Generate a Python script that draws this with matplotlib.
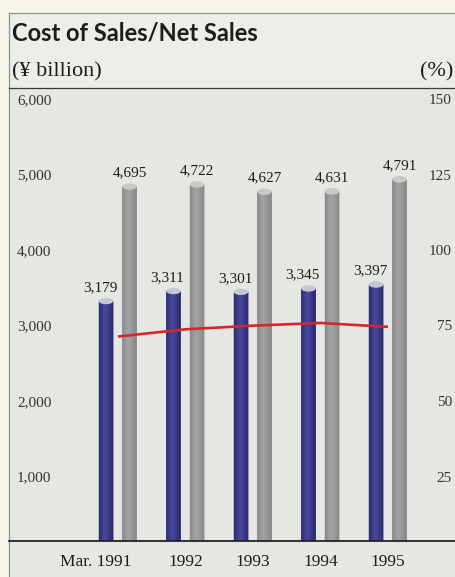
import numpy as np
import matplotlib
matplotlib.use("Agg")
import matplotlib.pyplot as plt
from matplotlib.patches import Rectangle, Ellipse, PathPatch
from matplotlib.path import Path
from matplotlib.lines import Line2D
from matplotlib.colors import LinearSegmentedColormap

# ---- data -------------------------------------------------------------
years = ["Mar. 1991", "1992", "1993", "1994", "1995"]
cost_of_sales = [3179, 3311, 3301, 3345, 3397]      # ¥ billion
net_sales = [4695, 4722, 4627, 4631, 4791]          # ¥ billion
cost_ratio = [67.7, 70.1, 71.3, 72.2, 70.9]         # cost of sales / net sales, %

left_ticks = [1000, 2000, 3000, 4000, 5000, 6000]
right_ticks = [25, 50, 75, 100, 125, 150]

# ---- figure / panel ---------------------------------------------------
W, H = 456, 577
fig = plt.figure(figsize=(W / 100, H / 100), dpi=100)
fig.patch.set_facecolor("#f7f5ec")


def fx(px):
    return px / W


def fy(py):
    return 1 - py / H


SERIF = ["Liberation Serif", "DejaVu Serif"]
INK = "#1c1c1c"

# panel background: lighter header band, plot area below
fig.patches.append(Rectangle((fx(9), fy(88)), 1 - fx(9), fy(13) - fy(88),
                             transform=fig.transFigure, facecolor="#eceee9",
                             edgecolor="none", zorder=-2))
fig.patches.append(Rectangle((fx(9), 0), 1 - fx(9), fy(88),
                             transform=fig.transFigure, facecolor="#e5e7e2",
                             edgecolor="none", zorder=-2))
# panel frame (left and top) and header rule
for (xa, xb, ya, yb, c, lw) in [
    (9, 9, 13, H, "#8e908c", 0.9),
    (9, W, 13, 13, "#8e908c", 0.9),
    (9, W, 88, 88, "#3a3a3a", 0.9),
]:
    fig.lines.append(Line2D([fx(xa), fx(xb)], [fy(ya), fy(yb)],
                            transform=fig.transFigure, color=c, lw=lw, zorder=-1))

fig.text(fx(12), fy(33), "Cost of Sales/Net Sales", fontsize=17,
         fontweight="bold", family=["Lato", "DejaVu Sans"], color=INK,
         va="center", ha="left")
fig.text(fx(12), fy(72), "(¥ billion)", fontsize=16, family=SERIF,
         color=INK, va="center", ha="left")
fig.text(fx(453), fy(72), "(%)", fontsize=16, family=SERIF,
         color=INK, va="center", ha="right")

# ---- axes ---------------------------------------------------------------
ax = fig.add_axes([fx(9), fy(541), fx(W) - fx(9), fy(88) - fy(541)])
ax.set_facecolor("none")
ax.axis("off")

slot = 67.5                       # pixels between year groups
x = np.arange(len(years))
blue_x = x - 12.0 / slot
gray_x = x + 11.5 / slot
bw = 14.5 / slot
cap_h = 85                        # cap ellipse height in data units

blue_cmap = LinearSegmentedColormap.from_list(
    "cyl_blue", ["#2c2b68", "#3b3a88", "#4a489c", "#403f90", "#34337c", "#2a2964"])
gray_cmap = LinearSegmentedColormap.from_list(
    "cyl_gray", ["#878787", "#989898", "#a4a4a4", "#9c9c9c", "#929292", "#858585"])
grad = np.linspace(0, 1, 128).reshape(1, -1)


def shade_bars(bars, cmap, base, cap_color):
    for rect in bars:
        x0 = rect.get_x()
        w = rect.get_width()
        top = rect.get_height()
        xc = x0 + w / 2
        # rounded foot of the cylinder
        t = np.linspace(np.pi, 2 * np.pi, 40)
        foot = np.column_stack([xc + w / 2 * np.cos(t), cap_h / 2 * np.sin(t)])
        verts = np.vstack([[x0, top], foot, [x0 + w, top], [x0, top]])
        body = PathPatch(Path(verts, closed=True), facecolor=base,
                         edgecolor="none", zorder=2)
        ax.add_patch(body)
        im = ax.imshow(grad, cmap=cmap, aspect="auto",
                       extent=[x0, x0 + w, -cap_h / 2, top],
                       interpolation="bilinear", zorder=2.1)
        im.set_clip_path(body)
        ax.add_patch(Ellipse((xc, top), w, cap_h, facecolor=cap_color,
                             edgecolor="none", zorder=3))


bars_cost = ax.bar(blue_x, cost_of_sales, width=bw, color="#3c3a8a",
                   zorder=1, alpha=0)
bars_sales = ax.bar(gray_x, net_sales, width=bw, color="#9a9a9a",
                    zorder=1, alpha=0)
shade_bars(bars_cost, blue_cmap, "#3c3a8a", "#c6c7d2")
shade_bars(bars_sales, gray_cmap, "#9a9a9a", "#c9c9c9")

ax.set_xlim((9 - 118) / slot, (W - 118) / slot)
ax.set_ylim(0, 6000)

# baseline
ax.axhline(0, color="#222222", lw=1.3, zorder=5, clip_on=False)

# value labels
for xi, v in zip(blue_x, cost_of_sales):
    ax.annotate(f"{v:,}", xy=(xi, v), xytext=(-6, 7), textcoords="offset pixels",
                ha="center", va="bottom", fontsize=11, family=SERIF, color=INK)
for xi, v in zip(gray_x, net_sales):
    ax.annotate(f"{v:,}", xy=(xi, v), xytext=(0, 7), textcoords="offset pixels",
                ha="center", va="bottom", fontsize=11, family=SERIF, color=INK)

# left scale labels (¥ billion)
ytr = ax.get_yaxis_transform()
for v in left_ticks:
    ax.annotate(f"{v:,}", xy=((17 - 9) / (W - 9), v), xycoords=ytr,
                xytext=(0, -12.5), textcoords="offset pixels",
                ha="left", va="center", fontsize=11, family=SERIF, color="#333333")

# year labels
xtr = ax.get_xaxis_transform()
for xi, lab in zip(x, years):
    if lab.startswith("Mar."):
        ax.annotate(lab, xy=(xi, 0), xycoords=xtr, xytext=(13, -21),
                    textcoords="offset pixels", ha="right", va="center",
                    fontsize=12.5, family=SERIF, color=INK, annotation_clip=False)
    else:
        ax.annotate(lab, xy=(xi, 0), xycoords=xtr, xytext=(0, -21),
                    textcoords="offset pixels", ha="center", va="center",
                    fontsize=12.5, family=SERIF, color=INK, annotation_clip=False)

# ratio line on the right-hand % scale
ax2 = ax.twinx()
ax2.set_facecolor("none")
ax2.axis("off")
ax2.set_ylim(0, 150)
ax2.set_xlim(ax.get_xlim())
ax2.plot(x, cost_ratio, color="#d6262b", lw=1.9, solid_capstyle="butt", zorder=6)

ytr2 = ax2.get_yaxis_transform()
for v in right_ticks:
    ax2.annotate(f"{v}", xy=((452 - 9) / (W - 9), v), xycoords=ytr2,
                 xytext=(0, -12.5), textcoords="offset pixels",
                 ha="right", va="center", fontsize=11, family=SERIF, color="#333333")

fig.savefig("out.png", dpi=100, facecolor=fig.get_facecolor())
